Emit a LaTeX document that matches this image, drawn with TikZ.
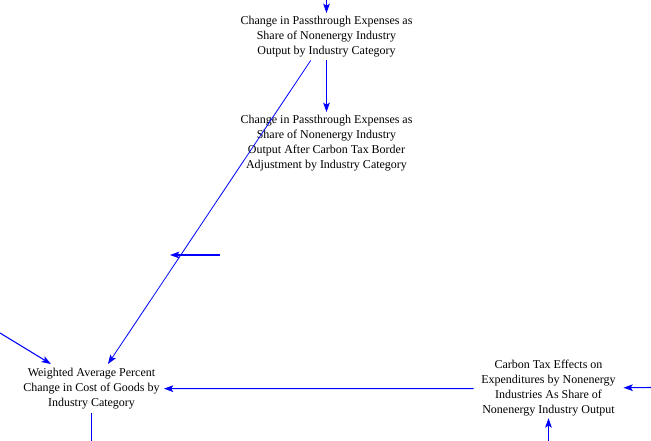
\documentclass[tikz,border=0pt]{standalone}
\usepackage{fontspec}
\setmainfont{Liberation Serif}
\usetikzlibrary{arrows.meta}
\definecolor{linkblue}{RGB}{0,0,255}
\begin{document}
\begin{tikzpicture}[x=0.75pt,y=-0.75pt,
  var/.style={align=center,inner xsep=3pt,inner ysep=2.25pt,font=\fontsize{9}{11.25}\selectfont,text=black},
  link/.style={draw=linkblue,line width=0.8pt,-{Stealth[length=7pt,width=5pt,inset=1.5pt]}},
  plain/.style={draw=linkblue,line width=0.8pt}]
\useasboundingbox (0,0) rectangle (651,441);
\node[var,anchor=north] (n1) at (326.5,13) {Change in Passthrough Expenses as\\Share of Nonenergy Industry\\Output by Industry Category};
\node[var,anchor=north] (n2) at (326.5,112) {Change in Passthrough Expenses as\\Share of Nonenergy Industry\\Output After Carbon Tax Border\\Adjustment by Industry Category};
\node[var,anchor=north,inner ysep=3pt] (n3) at (91.5,364) {Weighted Average Percent\\Change in Cost of Goods by\\Industry Category};
\node[var,inner xsep=5.6pt,inner ysep=1.1pt] (n4) at (548.5,388.5) {Carbon Tax Effects on\\Expenditures by Nonenergy\\Industries As Share of\\Nonenergy Industry Output};
\coordinate (t1) at (326.5,0);
\coordinate (f1) at (220,255);
\coordinate (f2) at (170,255);
\coordinate (l1) at (0,333);
\coordinate (r1) at (651,387.5);
\coordinate (b1) at (91.5,441);
\coordinate (b2) at (548.5,441);
\draw[link] (t1) -- (n1);
\draw[link] (n1) -- (n2);
\draw[link,line width=0.6pt] (n1) -- (n3);
\draw[link] (f1) -- (f2);
\draw[link] (l1) -- (n3);
\draw[link] (n4) -- (n3);
\draw[link] (r1) -- (n4);
\draw[link] (b2) -- (n4);
\draw[plain] (n3) -- (b1);
\end{tikzpicture}
\end{document}
